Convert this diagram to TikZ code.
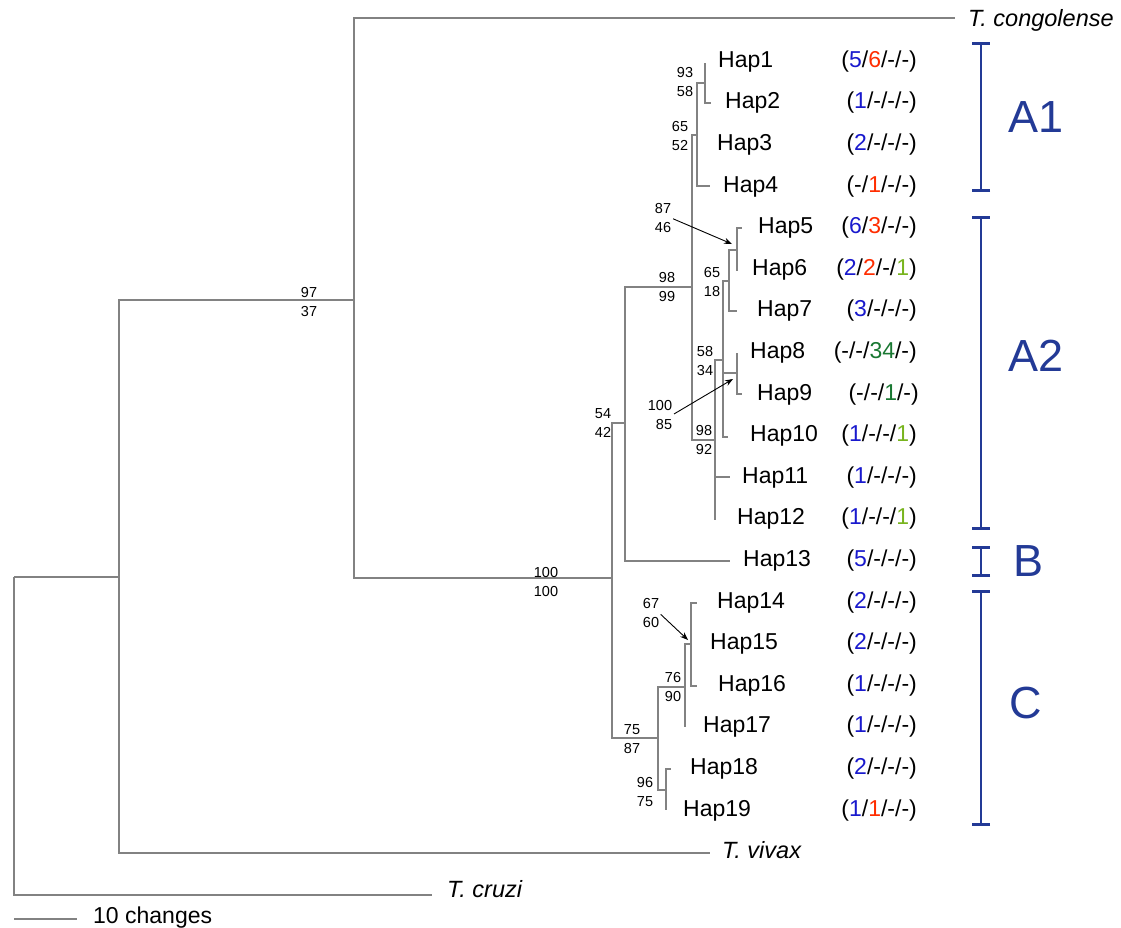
\documentclass[tikz,border=0pt]{standalone}
\usepackage{fontspec}
\setmainfont{Liberation Sans}
\usetikzlibrary{arrows.meta}
\definecolor{tree}{RGB}{130,130,130}
\definecolor{cblue}{RGB}{25,25,205}
\definecolor{cred}{RGB}{255,45,0}
\definecolor{cdg}{RGB}{25,120,50}
\definecolor{clg}{RGB}{120,180,30}
\definecolor{navy}{RGB}{35,58,150}
\newcommand{\B}[1]{\textcolor{cblue}{#1}}
\newcommand{\R}[1]{\textcolor{cred}{#1}}
\newcommand{\G}[1]{\textcolor{cdg}{#1}}
\newcommand{\LG}[1]{\textcolor{clg}{#1}}
\begin{document}
\begin{tikzpicture}[x=1pt,y=-1pt,
  branch/.style={draw=tree, line width=1.1pt},
  hap/.style={anchor=base west, inner sep=0pt, font=\fontsize{23}{27}\selectfont},
  cnt/.style={anchor=base east, inner sep=0pt, font=\fontsize{23}{27}\selectfont},
  taxon/.style={anchor=base west, inner sep=0pt, font=\fontsize{23.5}{27}\selectfont\itshape},
  bs/.style={align=right, inner sep=0pt, font=\fontsize{14.5}{19}\selectfont},
  arr/.style={draw=black, line width=0.9pt, -{Stealth[length=8pt,width=6pt]}, shorten <=2pt},
  brk/.style={draw=navy, line width=2.6pt, {Bar[width=18pt,line width=2.6pt]}-{Bar[width=18pt,line width=2.6pt]}},
  clade/.style={inner sep=0pt, text=navy, font=\fontsize{45}{52}\selectfont}]
\useasboundingbox (0,0) rectangle (1121,927);
% tree coordinates
\coordinate (R) at (14,577);
\coordinate (cruzi) at (432,895);
\coordinate (n1) at (119,577);
\coordinate (vivax) at (710,853);
\coordinate (n2) at (354,300);
\coordinate (cong) at (955,18);
\coordinate (n3) at (612,578);
\coordinate (n4) at (625,423);
\coordinate (t13) at (730,561);
\coordinate (n5) at (692,287);
\coordinate (nA1) at (697,135);
\coordinate (n12) at (705,83);
\coordinate (t1) at (705,63);
\coordinate (t2) at (711,103);
\coordinate (t3) at (697,144);
\coordinate (t4) at (710,186);
\coordinate (nA2) at (715,440);
\coordinate (n6) at (723,360);
\coordinate (n7) at (729,281);
\coordinate (n56) at (737,250);
\coordinate (t5) at (742,228);
\coordinate (t6) at (737,271);
\coordinate (t7) at (737,311);
\coordinate (n89) at (737,373);
\coordinate (t8) at (737,353);
\coordinate (t9) at (742,394);
\coordinate (t10) at (728,437);
\coordinate (t11) at (730,477);
\coordinate (t12) at (715,520);
\coordinate (nC) at (658,738);
\coordinate (n8) at (685,687);
\coordinate (n9) at (691,644);
\coordinate (t14) at (697,603);
\coordinate (t16) at (697,686);
\coordinate (t17) at (685,727);
\coordinate (n1819) at (666,790);
\coordinate (t18) at (671,769);
\coordinate (t19) at (666,810);
% branches
\draw[branch] (R) |- (cruzi) (R) |- (n1);
\draw[branch] (n1) |- (n2) (n1) |- (vivax);
\draw[branch] (n2) |- (cong) (n2) |- (n3);
\draw[branch] (n3) |- (n4) (n3) |- (nC);
\draw[branch] (n4) |- (n5) (n4) |- (t13);
\draw[branch] (n5) |- (nA1) (n5) |- (nA2);
\draw[branch] (nA1) |- (n12) (nA1) |- (t3) (nA1) |- (t4);
\draw[branch] (n12) |- (t1) (n12) |- (t2);
\draw[branch] (nA2) |- (n6) (nA2) |- (t11) (nA2) |- (t12);
\draw[branch] (n6) |- (n7) (n6) |- (n89) (n6) |- (t10);
\draw[branch] (n7) |- (n56) (n7) |- (t7);
\draw[branch] (n56) |- (t5) (n56) |- (t6);
\draw[branch] (n89) |- (t8) (n89) |- (t9);
\draw[branch] (nC) |- (n8) (nC) |- (n1819);
\draw[branch] (n8) |- (n9) (n8) |- (t17);
\draw[branch] (n9) |- (t14) (n9) |- (t16);
\draw[branch] (n1819) |- (t18) (n1819) |- (t19);
% taxa
\node[taxon] (Lcong) at (968,26) {T. congolense};
\node[taxon] (Lvivax) at (722,858) {T. vivax};
\node[taxon] (Lcruzi) at (447,897) {T. cruzi};
% haplotype labels
\node[hap] (h1) at (718,67.3) {Hap1};
\node[hap] (h2) at (725,108.9) {Hap2};
\node[hap] (h3) at (717,150.5) {Hap3};
\node[hap] (h4) at (723,192.1) {Hap4};
\node[hap] (h5) at (758,233.7) {Hap5};
\node[hap] (h6) at (752,275.3) {Hap6};
\node[hap] (h7) at (757,316.9) {Hap7};
\node[hap] (h8) at (750,358.5) {Hap8};
\node[hap] (h9) at (757,400.1) {Hap9};
\node[hap] (h10) at (750,441.7) {Hap10};
\node[hap] (h11) at (742,483.3) {Hap11};
\node[hap] (h12) at (737,524.9) {Hap12};
\node[hap] (h13) at (743,566.5) {Hap13};
\node[hap] (h14) at (717,608.1) {Hap14};
\node[hap] (h15) at (710,649.7) {Hap15};
\node[hap] (h16) at (718,691.3) {Hap16};
\node[hap] (h17) at (703,732.9) {Hap17};
\node[hap] (h18) at (690,774.5) {Hap18};
\node[hap] (h19) at (683,816.1) {Hap19};
% counts
\node[cnt] (c1) at (917,67.3) {(\B{5}/\R{6}/-/-)};
\node[cnt] (c2) at (917,108.9) {(\B{1}/-/-/-)};
\node[cnt] (c3) at (917,150.5) {(\B{2}/-/-/-)};
\node[cnt] (c4) at (917,192.1) {(-/\R{1}/-/-)};
\node[cnt] (c5) at (917,233.7) {(\B{6}/\R{3}/-/-)};
\node[cnt] (c6) at (917,275.3) {(\B{2}/\R{2}/-/\LG{1})};
\node[cnt] (c7) at (917,316.9) {(\B{3}/-/-/-)};
\node[cnt] (c8) at (917,358.5) {(-/-/\G{34}/-)};
\node[cnt] (c9) at (919,400.1) {(-/-/\G{1}/-)};
\node[cnt] (c10) at (917,441.7) {(\B{1}/-/-/\LG{1})};
\node[cnt] (c11) at (917,483.3) {(\B{1}/-/-/-)};
\node[cnt] (c12) at (917,524.9) {(\B{1}/-/-/\LG{1})};
\node[cnt] (c13) at (917,566.5) {(\B{5}/-/-/-)};
\node[cnt] (c14) at (917,608.1) {(\B{2}/-/-/-)};
\node[cnt] (c15) at (917,649.7) {(\B{2}/-/-/-)};
\node[cnt] (c16) at (917,691.3) {(\B{1}/-/-/-)};
\node[cnt] (c17) at (917,732.9) {(\B{1}/-/-/-)};
\node[cnt] (c18) at (917,774.5) {(\B{2}/-/-/-)};
\node[cnt] (c19) at (917,816.1) {(\B{1}/\R{1}/-/-)};
% bootstrap values
\node[bs] (b97) at (309,302) {97\\37};
\node[bs] (b100a) at (546,582) {100\\100};
\node[bs] (b93) at (685,82) {93\\58};
\node[bs] (b65a) at (680,136) {65\\52};
\node[bs] (b87) at (663,218) {87\\46};
\node[bs] (b98a) at (667,287) {98\\99};
\node[bs] (b65b) at (712,282) {65\\18};
\node[bs] (b58) at (705,361) {58\\34};
\node[bs] (b100b) at (660,415) {100\\85};
\node[bs] (b98b) at (704,440) {98\\92};
\node[bs] (b54) at (603,423) {54\\42};
\node[bs] (b67) at (651,613) {67\\60};
\node[bs] (b76) at (673,687) {76\\90};
\node[bs] (b75) at (632,739) {75\\87};
\node[bs] (b96) at (645,792) {96\\75};
% arrows
\coordinate (p87) at (732,244);
\coordinate (p100) at (733,379);
\coordinate (p67) at (688,640);
\draw[arr] (b87.east) -- (p87);
\draw[arr] (b100b.east) -- (p100);
\draw[arr] (b67.east) -- (p67);
% clade brackets
\coordinate (a1t) at (981,42); \coordinate (a1b) at (981,192);
\coordinate (a2t) at (981,216); \coordinate (a2b) at (981,530);
\coordinate (bt) at (981,546); \coordinate (bb) at (981,577);
\coordinate (ct) at (981,590); \coordinate (cb) at (981,826);
\draw[brk] (a1t) -- (a1b);
\draw[brk] (a2t) -- (a2b);
\draw[brk] (bt) -- (bb);
\draw[brk] (ct) -- (cb);
\node[clade] (LA1) at (1036,117) {A1};
\node[clade] (LA2) at (1036,356) {A2};
\node[clade] (LB) at (1028,561) {B};
\node[clade] (LC) at (1026,703) {C};
% scale bar
\coordinate (sb1) at (14,919);
\coordinate (sb2) at (77,919);
\draw[branch] (sb1) -- (sb2);
\node[anchor=base west, inner sep=0pt, font=\fontsize{23}{27}\selectfont] (sbl) at (93,923) {10 changes};
\end{tikzpicture}
\end{document}
